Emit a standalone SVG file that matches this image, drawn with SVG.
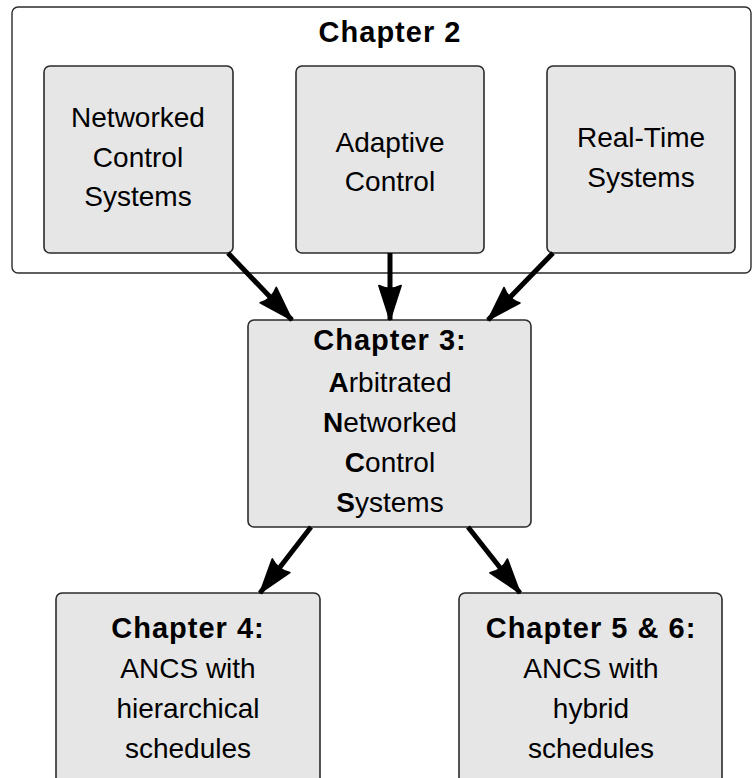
<svg xmlns="http://www.w3.org/2000/svg" width="755" height="778" viewBox="0 0 755 778">
  <style>
    .box { fill: #e6e6e6; stroke: #2b2b2b; stroke-width: 1.6; }
    .frame { fill: #ffffff; stroke: #2b2b2b; stroke-width: 1.4; }
    text { font-family: "Liberation Sans", Arial, sans-serif; font-size: 28px; fill: #000; text-anchor: middle; }
    .b { font-weight: bold; }
    .h { font-weight: bold; font-size: 29px; letter-spacing: 1px; }
    .edge { stroke: #000; stroke-width: 5; fill: none; marker-end: url(#head); }
  </style>
  <defs>
    <marker id="head" markerUnits="userSpaceOnUse" markerWidth="40" markerHeight="30" viewBox="-34 -12 36 24" refX="0" refY="0" orient="auto">
      <path d="M0,0 L-31,-10 Q-26,0 -31,10 Z" fill="#000" stroke="#000" stroke-width="1.5" stroke-linejoin="round"/>
    </marker>
  </defs>

  <!-- Chapter 2 frame -->
  <g id="chapter2">
    <rect class="frame" x="12" y="7" width="739" height="266" rx="6"/>
    <text class="h" x="390" y="42">Chapter 2</text>
  </g>

  <g id="ncs">
    <rect class="box" x="44" y="66" width="189" height="187" rx="6"/>
    <text x="138" y="127">Networked</text>
    <text x="138" y="167">Control</text>
    <text x="138" y="206">Systems</text>
  </g>

  <g id="adaptive">
    <rect class="box" x="296" y="66" width="188" height="187" rx="6"/>
    <text x="390" y="152">Adaptive</text>
    <text x="390" y="191">Control</text>
  </g>

  <g id="realtime">
    <rect class="box" x="547" y="66" width="188" height="187" rx="6"/>
    <text x="641" y="147">Real-Time</text>
    <text x="641" y="187">Systems</text>
  </g>

  <g id="chapter3">
    <rect class="box" x="248" y="320" width="283" height="207" rx="6"/>
    <text class="h" x="390" y="350">Chapter 3:</text>
    <text x="390" y="392"><tspan class="b">A</tspan>rbitrated</text>
    <text x="390" y="432"><tspan class="b">N</tspan>etworked</text>
    <text x="390" y="472"><tspan class="b">C</tspan>ontrol</text>
    <text x="390" y="512"><tspan class="b">S</tspan>ystems</text>
  </g>

  <g id="chapter4">
    <rect class="box" x="56" y="593" width="264" height="200" rx="6"/>
    <text class="h" x="188" y="638">Chapter 4:</text>
    <text x="188" y="678">ANCS with</text>
    <text x="188" y="718">hierarchical</text>
    <text x="188" y="758">schedules</text>
  </g>

  <g id="chapter56">
    <rect class="box" x="459" y="593" width="263" height="200" rx="6"/>
    <text class="h" x="591" y="638">Chapter 5 &amp; 6:</text>
    <text x="591" y="678">ANCS with</text>
    <text x="591" y="718">hybrid</text>
    <text x="591" y="758">schedules</text>
  </g>

  <g id="connectors">
    <line class="edge" x1="228" y1="253" x2="292" y2="320"/>
    <line class="edge" x1="390" y1="253" x2="390" y2="320"/>
    <line class="edge" x1="553" y1="253" x2="488" y2="320"/>
    <line class="edge" x1="311" y1="527" x2="260" y2="593"/>
    <line class="edge" x1="468" y1="527" x2="520" y2="593"/>
  </g>
</svg>
